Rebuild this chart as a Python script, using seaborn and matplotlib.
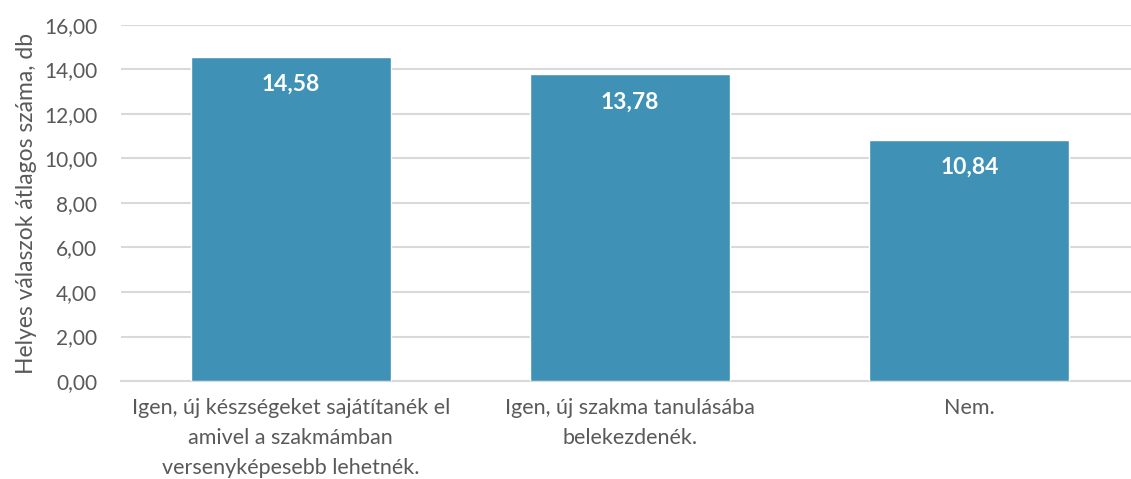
import matplotlib
matplotlib.use("Agg")
import matplotlib.pyplot as plt
import seaborn as sns
import pandas as pd
from matplotlib.ticker import FuncFormatter

categories = [
    "Igen, új készségeket sajátítanék el\namivel a szakmámban\nversenyképesebb lehetnék.",
    "Igen, új szakma tanulásába\nbelekezdenék.",
    "Nem.",
]
values = [14.58, 13.78, 10.84]
y_label = "Helyes válaszok átlagos száma, db"

df = pd.DataFrame({"cat": categories, "val": values})

sns.set_theme(style="white")
plt.rcParams["font.family"] = ["Lato", "DejaVu Sans"]

fig = plt.figure(figsize=(11.31, 4.79), dpi=100)
ax = fig.add_axes([121 / 1131, 98 / 479, 1018 / 1131, 356 / 479])

sns.barplot(data=df, x="cat", y="val", color="#3F92B5", saturation=1,
            width=0.59, ax=ax, zorder=3)

ax.set_ylim(0, 16)
ax.set_xlim(-0.5, 2.5)
ax.set_yticks(range(0, 17, 2))
ax.yaxis.set_major_formatter(FuncFormatter(lambda v, p: f"{v:.2f}".replace(".", ",")))
ax.grid(axis="y", color="#D9D9D9", linewidth=1.5, zorder=0)
ax.set_axisbelow(True)
for s in ["top", "right", "left"]:
    ax.spines[s].set_visible(False)
ax.spines["bottom"].set_color("#D9D9D9")
ax.spines["bottom"].set_linewidth(1.5)

ax.tick_params(axis="y", length=0, pad=17, labelsize=15, labelcolor="#595959")
ax.tick_params(axis="x", length=0, pad=12, labelsize=15.5, labelcolor="#595959")
for t in ax.get_xticklabels():
    t.set_linespacing(1.65)
ax.set_xlabel("")
ax.set_ylabel(y_label, fontsize=16.5, color="#595959", labelpad=5)

for i, v in enumerate(values):
    ax.text(i, v - 1.25, f"{v:.2f}".replace(".", ","), ha="center", va="center",
            color="white", fontsize=16.5, fontweight="bold", zorder=4)

fig.savefig("out.png", dpi=100)
